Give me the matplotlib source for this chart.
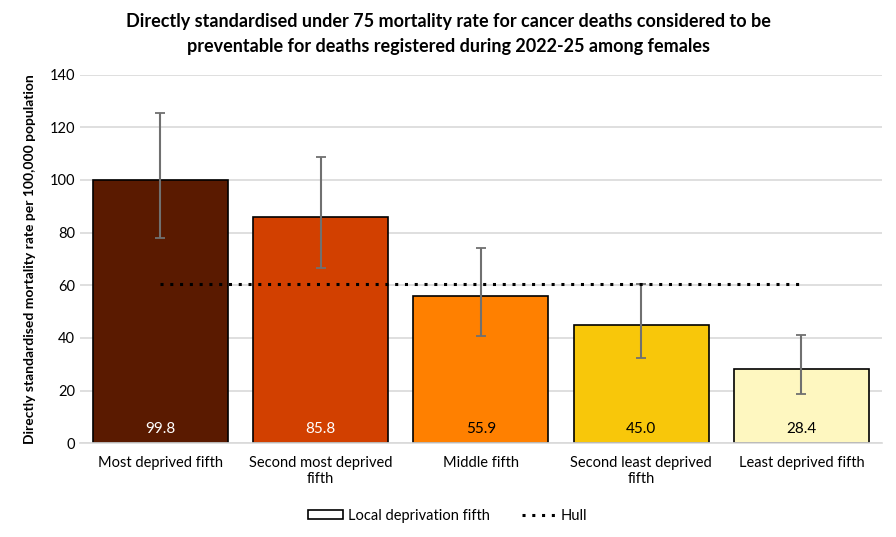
import numpy as np
import matplotlib.pyplot as plt
from matplotlib.patches import Patch
from matplotlib.lines import Line2D

plt.rcParams['font.family'] = ['Lato', 'DejaVu Sans']

categories = ["Most deprived fifth", "Second most deprived\nfifth", "Middle fifth",
              "Second least deprived\nfifth", "Least deprived fifth"]
rates = [99.8, 85.8, 55.9, 45.0, 28.4]
ci_lower = [78.0, 66.5, 40.7, 32.4, 18.8]
ci_upper = [125.6, 108.6, 74.3, 60.5, 41.0]
hull_rate = 60.6

bar_colors = ["#5A1A00", "#D24000", "#FF8000", "#F8C70A", "#FEF7C0"]
label_colors = ["white", "white", "black", "black", "black"]

fig = plt.figure(figsize=(8.96, 5.37), dpi=100)
ax = fig.add_axes([0.0893, 0.1745, 0.8947, 0.6865])

x = np.arange(len(categories))
rates_arr = np.array(rates)
yerr = np.vstack([rates_arr - np.array(ci_lower), np.array(ci_upper) - rates_arr])

ax.bar(x, rates, width=0.84, color=bar_colors, edgecolor="black", linewidth=1.2, zorder=2)
ax.errorbar(x, rates, yerr=yerr, fmt="none", ecolor="#707070", elinewidth=1.5,
            capsize=3.5, capthick=1.3, zorder=3)
ax.plot([x[0], x[-1]], [hull_rate, hull_rate], color="black", linestyle=(0, (1, 2.2)),
        linewidth=2.2, zorder=4)

for xi, v, c in zip(x, rates, label_colors):
    ax.text(xi, 5.5, f"{v:.1f}", ha="center", va="center", color=c, fontsize=11, zorder=5)

ax.set_xlim(-0.5, len(categories) - 0.5)
ax.set_ylim(0, 140)
ax.set_yticks(np.arange(0, 141, 20))
ax.yaxis.grid(True, color="#D9D9D9", linewidth=1.2, zorder=0)
ax.set_axisbelow(True)
for s in ["top", "right", "left"]:
    ax.spines[s].set_visible(False)
ax.spines["bottom"].set_color("#D9D9D9")
ax.spines["bottom"].set_linewidth(1.2)
ax.tick_params(axis="both", length=0, labelsize=10.5, colors="black")
ax.tick_params(axis="x", pad=9)
ax.set_xticks(x)
ax.set_xticklabels(categories, linespacing=1.2)

ax.set_ylabel("Directly standardised mortality rate per 100,000 population",
              fontsize=10, fontweight="bold", labelpad=10)

fig.suptitle("Directly standardised under 75 mortality rate for cancer deaths considered to be\n"
             "preventable for deaths registered during 2022-25 among females",
             fontsize=13, fontweight="bold", y=0.975, linespacing=1.55)

handles = [Patch(facecolor="white", edgecolor="black", linewidth=1.2, label="Local deprivation fifth"),
           Line2D([0], [0], color="black", linestyle=(0, (1, 2.2)), linewidth=2.2, label="Hull")]
fig.legend(handles=handles, loc="center", bbox_to_anchor=(0.5, 0.04), ncol=2, frameon=False,
           fontsize=10.5, handlelength=2.4, handleheight=0.6, columnspacing=2.2, handletextpad=0.3)

fig.savefig("out.png", dpi=100)
